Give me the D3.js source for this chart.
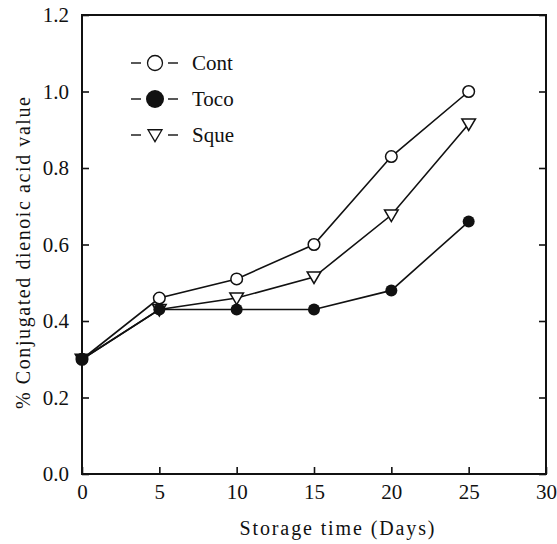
<!DOCTYPE html>
<html><head><meta charset="utf-8">
<script src="https://cdn.jsdelivr.net/npm/d3@7"></script>
<style>body{margin:0;background:#fff}svg{display:block}text{font-family:"Liberation Serif","DejaVu Serif",serif;fill:#111}</style>
</head><body><svg id="c" width="557" height="544"></svg>
<script>
const days = [0, 5, 10, 15, 20, 25];
const cont = [0.30, 0.46, 0.51, 0.60, 0.83, 1.00];
const toco = [0.30, 0.43, 0.43, 0.43, 0.48, 0.66];
const sque = [0.30, 0.43, 0.46, 0.515, 0.677, 0.915];
const xTicks = [0, 5, 10, 15, 20, 25, 30];
const yTicks = [0.0, 0.2, 0.4, 0.6, 0.8, 1.0, 1.2];
const seriesNames = ["Cont", "Toco", "Sque"];
const xTitle = "Storage time (Days)";
const yTitle = "% Conjugated dienoic acid value";

const svg = d3.select("#c");
const L = 82, R = 546, T = 15, B = 474;
const x = d3.scaleLinear().domain([0, 30]).range([L, R]);
const y = d3.scaleLinear().domain([0, 1.2]).range([B, T]);

// axes
const gx = svg.append("g").attr("transform", `translate(0,${B})`)
  .call(d3.axisBottom(x).tickValues(xTicks).tickFormat(d3.format("d")).tickSizeInner(-7).tickSizeOuter(0).tickPadding(10));
const gy = svg.append("g").attr("transform", `translate(${L},0)`)
  .call(d3.axisLeft(y).tickValues(yTicks).tickFormat(d3.format(".1f")).tickSizeInner(-7).tickSizeOuter(0).tickPadding(13));
const gr = svg.append("g").attr("transform", `translate(${R},0)`)
  .call(d3.axisRight(y).tickValues(yTicks).tickFormat("").tickSizeInner(-7).tickSizeOuter(0));
[gx, gy, gr].forEach(g => {
  g.select(".domain").remove();
  g.selectAll(".tick line").attr("stroke", "#111").attr("stroke-width", 1.6);
  g.selectAll(".tick text").style("font-family", '"Liberation Serif",serif').style("font-size", "21px").attr("fill", "#111");
});
svg.append("rect").attr("x", L).attr("y", T).attr("width", R - L).attr("height", B - T)
  .attr("fill", "none").attr("stroke", "#111").attr("stroke-width", 2);

// titles
svg.append("text").attr("x", 337).attr("y", 535).attr("text-anchor", "middle")
  .style("font-size", "20px").attr("textLength", 195).attr("lengthAdjust", "spacing").text(xTitle);
svg.append("text").attr("transform", "translate(30,253) rotate(-90)").attr("text-anchor", "middle")
  .style("font-size", "20px").attr("textLength", 312).attr("lengthAdjust", "spacing").text(yTitle);

const line = d3.line().x((d, i) => x(days[i])).y(d => y(d));
const data = [cont, toco, sque];
data.forEach(s => {
  svg.append("path").attr("d", line(s)).attr("fill", "none").attr("stroke", "#111").attr("stroke-width", 1.6);
});
const tri = (s) => `M${-s},${-s*0.75}L${s},${-s*0.75}L0,${s*0.95}Z`;
// markers: Cont open circles
svg.selectAll(".mc").data(cont).enter().append("circle")
  .attr("cx", (d, i) => x(days[i])).attr("cy", d => y(d)).attr("r", 5.8)
  .attr("fill", "#fff").attr("stroke", "#111").attr("stroke-width", 1.5);
// Sque open triangles
svg.selectAll(".ms").data(sque).enter().append("path")
  .attr("transform", (d, i) => `translate(${x(days[i])},${y(d)})`).attr("d", tri(6.8))
  .attr("fill", (d, i) => i === 0 ? "#111" : "#fff").attr("stroke", "#111").attr("stroke-width", 1.5);
// Toco filled circles
svg.selectAll(".mt").data(toco).enter().append("circle")
  .attr("cx", (d, i) => x(days[i])).attr("cy", d => y(d)).attr("r", 6)
  .attr("fill", "#111");

// legend
const legY = [63, 99, 135];
seriesNames.forEach((name, k) => {
  const cy = legY[k], g = svg.append("g");
  g.append("line").attr("x1", 131).attr("x2", 141).attr("y1", cy).attr("y2", cy).attr("stroke", "#111").attr("stroke-width", 1.4);
  g.append("line").attr("x1", 168).attr("x2", 178).attr("y1", cy).attr("y2", cy).attr("stroke", "#111").attr("stroke-width", 1.4);
  if (k === 0) g.append("circle").attr("cx", 155).attr("cy", cy).attr("r", 7.5).attr("fill", "#fff").attr("stroke", "#111").attr("stroke-width", 1.3);
  if (k === 1) g.append("circle").attr("cx", 155).attr("cy", cy).attr("r", 9).attr("fill", "#111");
  if (k === 2) g.append("path").attr("transform", `translate(155,${cy})`).attr("d", tri(7)).attr("fill", "#fff").attr("stroke", "#111").attr("stroke-width", 1.3);
  g.append("text").attr("x", 192).attr("y", cy + 7).style("font-size", "21px").text(name);
});
</script></body></html>
